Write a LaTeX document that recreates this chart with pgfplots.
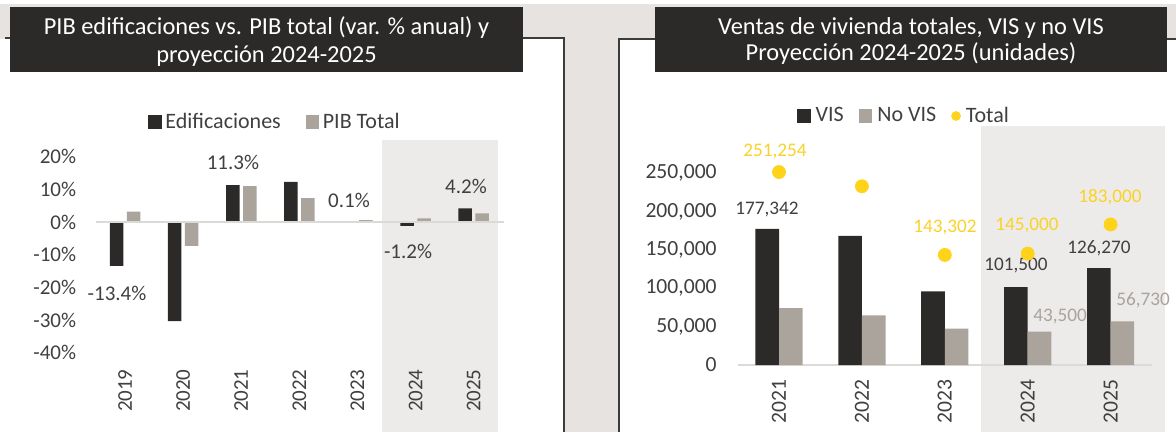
\documentclass[border=0pt]{standalone}
\usepackage{fontspec}
\setmainfont{Carlito}
\usepackage{pgfplots}
\pgfplotsset{compat=1.18}
\definecolor{dk}{RGB}{43,42,40}
\definecolor{gr}{RGB}{171,164,157}
\definecolor{bg}{RGB}{230,227,224}
\definecolor{sh}{RGB}{237,235,233}
\definecolor{txt}{RGB}{64,64,64}
\definecolor{yl}{RGB}{255,211,25}
\definecolor{ylt}{RGB}{250,210,40}
\definecolor{grt}{RGB}{168,163,158}
\definecolor{zl}{RGB}{220,218,215}
\definecolor{bd}{RGB}{60,60,60}
\begin{document}
\begin{tikzpicture}
\path[use as bounding box] (0,0) rectangle (588pt,-216pt);
\begin{scope}[x=0.5pt,y=-0.5pt]
\fill[white] (0,0) rectangle (1176,432);
\fill[bg] (0,4) rectangle (1176,39);
\fill[bg] (564,4) rectangle (619,432);
\draw[bd, line width=1pt] (5,38) -- (564,38) -- (564,432);
\draw[bd, line width=1pt] (619,432) -- (619,39) -- (1176,39);
\fill[dk] (10,7) rectangle (523,72);
\fill[dk] (655,7) rectangle (1167,72);
\node[white, font=\fontsize{12.2}{14}\selectfont] at (266.5,28) {PIB edificaciones vs. PIB total (var. \% anual) y};
\node[white, font=\fontsize{12.2}{14}\selectfont] at (266.5,56) {proyección 2024-2025};
\node[white, font=\fontsize{12.2}{14}\selectfont] at (911,28) {Ventas de vivienda totales, VIS y no VIS};
\node[white, font=\fontsize{12.2}{14}\selectfont] at (911,54) {Proyección 2024-2025 (unidades)};
\end{scope}

% ---------- left chart ----------
\begin{axis}[
  at={(48pt,-176.4pt)}, anchor=south west,
  scale only axis, width=203.35pt, height=98.1pt,
  clip=false, axis on top,
  xmin=-0.5, xmax=6.5, ymin=-40, ymax=20,
  axis line style={draw=none}, tick style={draw=none},
  xtick={0,...,6}, xticklabels={2019,2020,2021,2022,2023,2024,2025},
  ytick={-40,-30,-20,-10,0,10,20},
  yticklabels={-40\%,-30\%,-20\%,-10\%,0\%,10\%,20\%},
  tick label style={font=\fontsize{10.5}{12}\selectfont, text=txt, inner sep=0pt},
  xticklabel style={rotate=90, anchor=east},
  yticklabel style={anchor=east},
  xticklabel shift=8.1pt, yticklabel shift=9.75pt,
  legend style={draw=none, fill=none, at={(0.129,1.1764)}, anchor=west,
    inner sep=0pt, outer sep=0pt, font=\fontsize{11}{13}\selectfont, text=txt,
    legend columns=-1,
    /tikz/every odd column/.style={column sep=1.2pt},
    /tikz/every even column/.style={column sep=12pt},
    nodes={inner sep=0.5pt}},
]
\fill[sh] (axis cs:4.415,-64.2) rectangle (axis cs:6.411,25.08);
\addplot[ybar, bar width=6.75pt, bar shift=-4.25pt, fill=dk, draw=none,
  legend image code/.code={\fill[dk] (0pt,-3.4pt) rectangle (6.8pt,3.4pt);}]
  coordinates {(0,-13.4) (1,-30.3) (2,11.3) (3,12.3) (4,0.1) (5,-1.2) (6,4.2)};
\addplot[ybar, bar width=6.75pt, bar shift=4.25pt, fill=gr, draw=none,
  legend image code/.code={\fill[gr] (0pt,-3.4pt) rectangle (6.8pt,3.4pt);}]
  coordinates {(0,3.2) (1,-7.3) (2,11.0) (3,7.3) (4,0.6) (5,1.1) (6,2.6)};
\draw[zl, line width=1pt] (axis cs:-0.5,0) -- (axis cs:6.52,0);
\legend{Edificaciones, PIB Total}
\begin{scope}[every node/.style={font=\fontsize{10.5}{12}\selectfont, text=txt, inner sep=0pt}]
\node at (axis cs:-0.138,-21.7) {-13.4\%};
\node at (axis cs:1.857,18.3) {11.3\%};
\node at (axis cs:3.855,6.7) {0.1\%};
\node at (axis cs:4.871,-8.9) {-1.2\%};
\node at (axis cs:5.869,11.0) {4.2\%};
\end{scope}
\end{axis}

% ---------- right chart ----------
\begin{axis}[
  at={(368.775pt,-182.5pt)}, anchor=south west,
  scale only axis, width=207.25pt, height=96pt,
  clip=false, axis on top,
  xmin=-0.5, xmax=4.5, ymin=0, ymax=250000,
  axis line style={draw=none}, tick style={draw=none},
  scaled y ticks=false,
  xtick={0,...,4}, xticklabels={2021,2022,2023,2024,2025},
  ytick={0,50000,100000,150000,200000,250000},
  yticklabels={0,{50,000},{100,000},{150,000},{200,000},{250,000}},
  tick label style={font=\fontsize{10.8}{12}\selectfont, text=txt, inner sep=0pt},
  xticklabel style={rotate=90, anchor=east},
  yticklabel style={anchor=east},
  xticklabel shift=7pt, yticklabel shift=10.27pt,
  legend style={draw=none, fill=none, at={(0.1434,1.297)}, anchor=west,
    inner sep=0pt, outer sep=0pt, font=\fontsize{11}{13}\selectfont, text=txt,
    legend columns=-1,
    /tikz/every odd column/.style={column sep=2pt},
    /tikz/every even column/.style={column sep=7pt},
    nodes={inner sep=0.5pt}},
]
\fill[sh] (axis cs:2.437,-87200) rectangle (axis cs:4.662,311200);
\draw[zl, line width=0.75pt] (axis cs:-0.5,0) -- (axis cs:4.5,0);
\addplot[ybar, bar width=11.8pt, bar shift=-5.9pt, fill=dk, draw=none,
  legend image code/.code={\fill[dk] (0pt,-3.4pt) rectangle (6.8pt,3.4pt);}]
  coordinates {(0,177342) (1,168000) (2,96000) (3,101500) (4,126270)};
\addplot[ybar, bar width=11.8pt, bar shift=5.9pt, fill=gr, draw=none,
  legend image code/.code={\fill[gr] (0pt,-3.4pt) rectangle (6.8pt,3.4pt);}]
  coordinates {(0,73912) (1,64700) (2,47302) (3,43500) (4,56730)};
\addplot[only marks, color=yl, mark=*, mark size=3.25pt, mark options={draw=yl, fill=yl},
  legend image code/.code={\fill[yl] (2.2pt,0pt) circle (2.2pt);}]
  coordinates {(0,251254) (1,232700) (2,143302) (3,145000) (4,183000)};
\legend{VIS, No VIS, Total}
\begin{scope}[every node/.style={font=\fontsize{9.6}{11}\selectfont, inner sep=0pt}]
\node[text=ylt] at (axis cs:-0.048,278600) {251,254};
\node[text=txt] at (axis cs:-0.145,203100) {177,342};
\node[text=ylt] at (axis cs:2.002,178400) {143,302};
\node[text=ylt] at (axis cs:2.992,181000) {145,000};
\node[text=txt] at (axis cs:2.859,130200) {101,500};
\node[text=ylt] at (axis cs:3.993,218750) {183,000};
\node[text=txt] at (axis cs:3.860,152300) {126,270};
\node[text=grt] at (axis cs:3.390,63800) {43,500};
\node[text=grt] at (axis cs:4.391,84600) {56,730};
\end{scope}
\end{axis}
\end{tikzpicture}
\end{document}
